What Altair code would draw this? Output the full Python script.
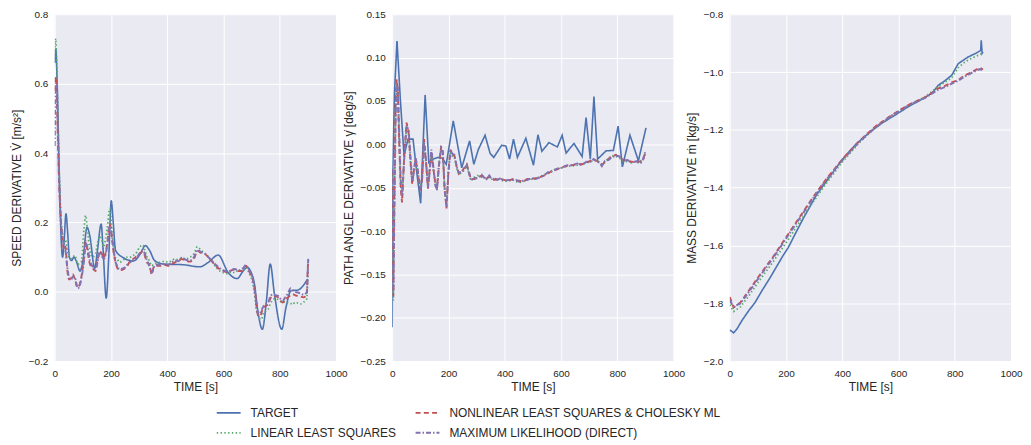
import altair as alt
import pandas as pd

# ---------------- series names / styles ----------------
SERIES = ["TARGET", "LINEAR LEAST SQUARES",
          "NONLINEAR LEAST SQUARES & CHOLESKY ML", "MAXIMUM LIKELIHOOD (DIRECT)"]
COLOR_RANGE = ["#4C72B0", "#55A868", "#C44E52", "#8172B2"]
DASH_RANGE = [[1, 0], [1.4, 2.4], [5, 3.3], [5, 2, 1.5, 2]]
WIDTH_RANGE = [1.6, 2.0, 3.0, 2.4]

X_TICKS = [0, 200, 400, 600, 800, 1000]

# ---------------- panel 1 : speed derivative ----------------
T1_TARGET = [0, 4, 8, 13, 18, 23, 28, 33, 40, 46, 52, 60, 68, 76, 90, 100, 115, 125, 142,
             152, 165, 172, 183, 192, 201, 208, 216, 240, 280, 305, 322, 338, 355, 387,
             457, 516, 546, 581, 616, 648, 670, 684, 697, 710, 722, 738, 752, 766, 781,
             807, 822, 840, 864, 887, 899]
V1_TARGET = [0.66, 0.70, 0.62, 0.45, 0.28, 0.15, 0.10, 0.14, 0.225, 0.17, 0.10, 0.09, 0.10,
             0.09, 0.06, 0.09, 0.186, 0.16, 0.068, 0.12, 0.195, 0.12, -0.018, 0.10, 0.262,
             0.20, 0.12, 0.10, 0.089, 0.11, 0.133, 0.118, 0.09, 0.08, 0.078, 0.072, 0.085,
             0.106, 0.056, 0.038, 0.06, 0.07, 0.058, 0.022, -0.055, -0.108, -0.03, 0.08,
             -0.007, -0.108, -0.045, 0.003, 0.005, 0.022, 0.037]

T1 = [0, 3, 7, 11, 15, 19, 23, 28, 33, 38, 45, 51, 58, 65, 72, 82, 94, 104, 110, 116,
      125, 133, 145, 152, 160, 167, 174, 180, 186, 196, 204, 210, 215, 222, 230, 245, 258,
      268, 280, 292, 303, 313, 320, 328, 336, 345, 352, 362, 375, 390, 405, 416, 428, 440,
      452, 466, 481, 495, 507, 520, 534, 546, 558, 572, 587, 600, 616, 628, 640, 652, 664,
      672, 679, 686, 693, 702, 710, 715, 719, 725, 731, 737, 743, 751, 759, 766, 774, 784,
      794, 802, 811, 820, 829, 838, 846, 855, 864, 874, 884, 892, 896, 899, 901]
V1_NLS = [0.58, 0.62, 0.57, 0.45, 0.33, 0.25, 0.19, 0.15, 0.12, 0.13,
          0.06, 0.035, 0.04, 0.05, 0.035, 0.012, 0.04, 0.10, 0.146, 0.12,
          0.08, 0.07, 0.06, 0.09, 0.117, 0.11, 0.098, 0.11, 0.136, 0.195,
          0.15, 0.11, 0.089, 0.07, 0.062, 0.065, 0.075, 0.089, 0.095, 0.103,
          0.11, 0.117, 0.105, 0.084, 0.08, 0.05, 0.072, 0.075, 0.075, 0.078,
          0.075, 0.08, 0.085, 0.09, 0.094, 0.09, 0.087, 0.095, 0.118, 0.112,
          0.109, 0.1, 0.089, 0.075, 0.065, 0.06, 0.056, 0.062, 0.065, 0.06,
          0.06, 0.068, 0.075, 0.068, 0.056, 0.04, 0.012, -0.02, -0.055, -0.07,
          -0.069, -0.055, -0.045, -0.04, -0.036, -0.02, -0.012, -0.013, -0.016, -0.025,
          -0.031, -0.022, -0.016, -0.01, -0.007, -0.01, -0.012, -0.014, -0.016, -0.012,
          -0.007, 0.06, 0.09]
V1_LLS = [0.66, 0.73, 0.66, 0.52, 0.38, 0.28, 0.21, 0.16, 0.14, 0.15,
          0.12, 0.10, 0.095, 0.10, 0.105, 0.08, 0.085, 0.18, 0.22, 0.18,
          0.12, 0.10, 0.11, 0.14, 0.16, 0.15, 0.13, 0.15, 0.18, 0.24,
          0.17, 0.12, 0.10, 0.095, 0.085, 0.092, 0.10, 0.10, 0.105, 0.115,
          0.13, 0.135, 0.12, 0.10, 0.09, 0.075, 0.08, 0.083, 0.085, 0.088,
          0.085, 0.09, 0.095, 0.092, 0.098, 0.095, 0.10, 0.11, 0.13, 0.12,
          0.11, 0.10, 0.088, 0.072, 0.06, 0.055, 0.052, 0.058, 0.055, 0.062,
          0.06, 0.065, 0.07, 0.062, 0.05, 0.03, -0.005, -0.04, -0.06, -0.07,
          -0.08, -0.075, -0.06, -0.055, -0.05, -0.035, -0.025, -0.02, -0.022, -0.028,
          -0.03, -0.028, -0.032, -0.035, -0.03, -0.035, -0.032, -0.035, -0.03, -0.025,
          -0.02, 0.03, 0.07]
V1_ML = [0.42, 0.58, 0.60, 0.47, 0.34, 0.25, 0.19, 0.16, 0.13, 0.12,
         0.07, 0.04, 0.035, 0.045, 0.04, 0.01, 0.035, 0.09, 0.14, 0.13,
         0.09, 0.075, 0.065, 0.085, 0.115, 0.105, 0.095, 0.105, 0.13, 0.19,
         0.155, 0.115, 0.09, 0.075, 0.065, 0.068, 0.078, 0.085, 0.092, 0.10,
         0.112, 0.12, 0.11, 0.09, 0.075, 0.055, 0.07, 0.078, 0.078, 0.08,
         0.078, 0.085, 0.09, 0.088, 0.098, 0.092, 0.09, 0.10, 0.12, 0.115,
         0.11, 0.10, 0.09, 0.078, 0.068, 0.062, 0.058, 0.062, 0.066, 0.062,
         0.065, 0.07, 0.077, 0.07, 0.058, 0.042, 0.01, -0.025, -0.05, -0.065,
         -0.06, -0.05, -0.04, -0.035, -0.03, -0.015, -0.008, -0.01, -0.012, -0.02,
         -0.025, -0.015, -0.005, 0.01, 0.005, 0.0, -0.002, -0.005, -0.008, -0.005,
         0.0, 0.05, 0.095]

# ---------------- panel 2 : path angle derivative ----------------
T2_TARGET = [0, 2, 8, 17, 29, 42, 56, 74, 86, 101, 117, 130, 145, 163, 178, 192, 217, 247,
             275, 290, 306, 330, 348, 361, 389, 404, 417, 431, 445, 475, 502, 518, 532, 557,
             587, 604, 618, 646, 675, 689, 704, 717, 730, 760, 786, 803, 818, 845, 875, 902]
V2_TARGET = [-0.211, -0.03, 0.06, 0.119, 0.051, -0.013, 0.006, 0.006, -0.029, -0.068,
             0.057, -0.021, -0.017, -0.015, -0.016, -0.023, 0.027, -0.027, 0.004, -0.023,
             -0.006, 0.0105, -0.0105, -0.015, -0.001, -0.002, -0.017, 0.006, -0.015, 0.007,
             -0.024, 0.011, -0.008, 0.002, -0.003, 0.0105, -0.010, 0.001, -0.014, 0.031,
             -0.017, 0.055, -0.017, -0.0075, -0.007, 0.021, -0.026, 0.0105, -0.019, 0.019]

T2 = [0, 2, 4, 6, 9, 12, 16, 20, 25, 30, 35, 43, 51, 58, 65, 71, 77, 83, 90, 100,
      106, 113, 120, 127, 133, 139, 147, 153, 159, 166, 174, 180, 186, 193, 200, 207, 214,
      221, 229, 237, 250, 265, 280, 292, 304, 318, 333, 345, 351, 362, 374, 386, 398, 413,
      428, 440, 451, 465, 480, 495, 510, 525, 539, 554, 569, 586, 604, 622, 640, 658, 675,
      690, 704, 716, 728, 737, 745, 756, 768, 781, 795, 808, 821, 836, 851, 862, 874, 884,
      892, 897, 900]
V2_NLS = [-0.03, -0.12, -0.175, -0.10, -0.02, 0.05, 0.075, 0.06, 0.0, -0.05,
          -0.067, -0.01, 0.025, 0.015, -0.02, -0.046, -0.03, -0.017, -0.03, -0.055,
          -0.04, 0.006, -0.02, -0.051, -0.03, -0.008, -0.03, -0.045, -0.051, -0.025,
          -0.002, -0.01, -0.05, -0.074, -0.03, -0.006, -0.012, -0.013, -0.025, -0.034,
          -0.03, -0.023, -0.04, -0.04, -0.038, -0.036, -0.04, -0.037, -0.038, -0.041,
          -0.04, -0.04, -0.041, -0.042, -0.04, -0.042, -0.042, -0.043, -0.04, -0.04,
          -0.039, -0.038, -0.036, -0.033, -0.031, -0.029, -0.026, -0.025, -0.024, -0.023,
          -0.023, -0.021, -0.019, -0.018, -0.019, -0.022, -0.024, -0.02, -0.017, -0.014,
          -0.012, -0.015, -0.018, -0.019, -0.02, -0.021, -0.02, -0.02, -0.018, -0.012,
          -0.008]
V2_LLS = [-0.035, -0.13, -0.18, -0.11, -0.03, 0.04, 0.07, 0.062, 0.005, -0.045,
          -0.062, -0.012, 0.02, 0.012, -0.022, -0.044, -0.028, -0.02, -0.032, -0.05,
          -0.038, 0.0, -0.022, -0.048, -0.028, -0.01, -0.032, -0.043, -0.048, -0.022,
          -0.005, -0.012, -0.048, -0.07, -0.028, -0.008, -0.014, -0.015, -0.027, -0.035,
          -0.032, -0.025, -0.042, -0.038, -0.036, -0.038, -0.039, -0.038, -0.04, -0.04,
          -0.039, -0.041, -0.043, -0.042, -0.041, -0.043, -0.044, -0.043, -0.041, -0.04,
          -0.04, -0.037, -0.035, -0.034, -0.03, -0.028, -0.027, -0.025, -0.025, -0.024,
          -0.022, -0.021, -0.02, -0.019, -0.018, -0.021, -0.023, -0.021, -0.016, -0.013,
          -0.014, -0.016, -0.019, -0.02, -0.021, -0.02, -0.021, -0.019, -0.017, -0.013,
          -0.01]
V2_ML = [-0.028, -0.11, -0.17, -0.12, -0.04, 0.03, 0.07, 0.065, 0.01, -0.04,
         -0.06, -0.015, 0.02, 0.018, -0.015, -0.043, -0.032, -0.015, -0.028, -0.052,
         -0.042, 0.003, -0.018, -0.05, -0.032, -0.006, -0.028, -0.047, -0.053, -0.024,
         -0.004, -0.008, -0.052, -0.072, -0.032, -0.007, -0.011, -0.012, -0.026, -0.033,
         -0.031, -0.024, -0.041, -0.039, -0.039, -0.035, -0.041, -0.036, -0.039, -0.04,
         -0.041, -0.039, -0.042, -0.041, -0.041, -0.041, -0.043, -0.042, -0.041, -0.039,
         -0.04, -0.038, -0.036, -0.032, -0.031, -0.028, -0.027, -0.024, -0.024, -0.022,
         -0.024, -0.02, -0.02, -0.017, -0.02, -0.021, -0.025, -0.019, -0.018, -0.015,
         -0.013, -0.014, -0.019, -0.018, -0.021, -0.02, -0.019, -0.021, -0.017, -0.011,
         -0.008]

# ---------------- panel 3 : mass derivative ----------------
T3_TARGET = [0, 14, 26, 43, 67, 90, 114, 143, 167, 190, 208, 231, 261, 307, 354, 401, 448,
             495, 542, 589, 636, 683, 718, 742, 765, 789, 812, 847, 877, 892, 894, 897, 900]
V3_TARGET = [-1.892, -1.902, -1.888, -1.86, -1.826, -1.797, -1.757, -1.712, -1.672, -1.634,
             -1.607, -1.563, -1.507, -1.427, -1.364, -1.301, -1.25, -1.21, -1.176, -1.148,
             -1.119, -1.094, -1.074, -1.045, -1.030, -1.011, -0.971, -0.948, -0.934, -0.925,
             -0.89, -0.935, -0.93]
T3 = [0, 14, 38, 67, 108, 155, 202, 249, 296, 343, 401, 460, 519, 577, 636, 695, 742, 765,
      789, 812, 836, 860, 883, 890, 900]
V3_NLS = [-1.778, -1.814, -1.797, -1.757, -1.700, -1.638, -1.569, -1.501, -1.433, -1.370,
          -1.301, -1.239, -1.187, -1.148, -1.113, -1.087, -1.056, -1.048, -1.036, -1.028,
          -1.011, -1.0, -0.988, -0.985, -0.991]
V3_LLS = [-1.805, -1.828, -1.812, -1.775, -1.718, -1.655, -1.588, -1.518, -1.45, -1.385,
          -1.31, -1.245, -1.19, -1.15, -1.115, -1.085, -1.05, -1.035, -1.02, -0.985,
          -0.965, -0.952, -0.942, -0.938, -0.935]
V3_ML = [-1.79, -1.812, -1.80, -1.762, -1.705, -1.642, -1.573, -1.505, -1.437, -1.373,
         -1.304, -1.242, -1.19, -1.15, -1.115, -1.089, -1.06, -1.052, -1.04, -1.03,
         -1.015, -1.003, -0.992, -0.99, -0.994]


def long_frame(t_target, v_target, t_est, v_lls, v_nls, v_ml):
    parts = [
        pd.DataFrame({"t": t_target, "v": v_target, "series": SERIES[0]}),
        pd.DataFrame({"t": t_est, "v": v_lls, "series": SERIES[1]}),
        pd.DataFrame({"t": t_est, "v": v_nls, "series": SERIES[2]}),
        pd.DataFrame({"t": t_est, "v": v_ml, "series": SERIES[3]}),
    ]
    return pd.concat(parts, ignore_index=True)


LEG = alt.Legend(title=None, orient="none", legendX=162, legendY=394, columns=2,
                 symbolType="stroke", symbolSize=576, labelFontSize=12,
                 labelFont="Liberation Sans", labelColor="#262626", labelOffset=9,
                 columnPadding=18, rowPadding=6, clipHeight=14, labelLimit=400)


def panel(df, ytitle, ydomain, yticks, fmt, interp):
    return alt.Chart(df).mark_line(interpolate=interp, clip=True).encode(
        x=alt.X("t:Q", scale=alt.Scale(domain=[0, 1000], nice=False),
                axis=alt.Axis(values=X_TICKS, format="d", title="TIME [s]")),
        y=alt.Y("v:Q", scale=alt.Scale(domain=ydomain, nice=False, zero=False),
                axis=alt.Axis(values=yticks, format=fmt, title=ytitle)),
        color=alt.Color("series:N", scale=alt.Scale(domain=SERIES, range=COLOR_RANGE),
                        legend=LEG),
        strokeDash=alt.StrokeDash("series:N", scale=alt.Scale(domain=SERIES, range=DASH_RANGE),
                                  legend=LEG),
        strokeWidth=alt.StrokeWidth("series:N", scale=alt.Scale(domain=SERIES, range=WIDTH_RANGE),
                                    legend=LEG),
    ).properties(width=283, height=349)


p1 = panel(long_frame(T1_TARGET, V1_TARGET, T1, V1_LLS, V1_NLS, V1_ML),
           "SPEED DERIVATIVE V̇ [m/s²]", [-0.2, 0.8],
           [-0.2, 0.0, 0.2, 0.4, 0.6, 0.8], ".1f", "monotone")
p2 = panel(long_frame(T2_TARGET, V2_TARGET, T2, V2_LLS, V2_NLS, V2_ML),
           "PATH ANGLE DERIVATIVE γ̇ [deg/s]", [-0.25, 0.15],
           [-0.25, -0.2, -0.15, -0.1, -0.05, 0.0, 0.05, 0.1, 0.15], ".2f", "linear")
p3 = panel(long_frame(T3_TARGET, V3_TARGET, T3, V3_LLS, V3_NLS, V3_ML),
           "MASS DERIVATIVE ṁ [kg/s]", [-2.0, -0.8],
           [-2.0, -1.8, -1.6, -1.4, -1.2, -1.0, -0.8], ".1f", "linear")

chart = alt.hconcat(p1, p2, p3, spacing=56.5, bounds="flush",
                    padding={"left": 2, "top": 0, "right": 0, "bottom": 0}).configure_view(
    fill="#EAEAF2", stroke=None
).configure_axis(
    grid=True, gridColor="white", gridWidth=1, domain=False, ticks=False,
    labelFlush=False, labelOverlap=False,
    labelFont="Liberation Sans", labelFontSize=10, labelColor="#262626", labelPadding=7,
    titleFont="Liberation Sans", titleFontSize=12, titleFontWeight="normal",
    titleColor="#262626",
).configure_axisX(titlePadding=3).configure_axisY(titlePadding=5)

chart.save("out.html", embed_options={"renderer": "svg", "actions": False})
